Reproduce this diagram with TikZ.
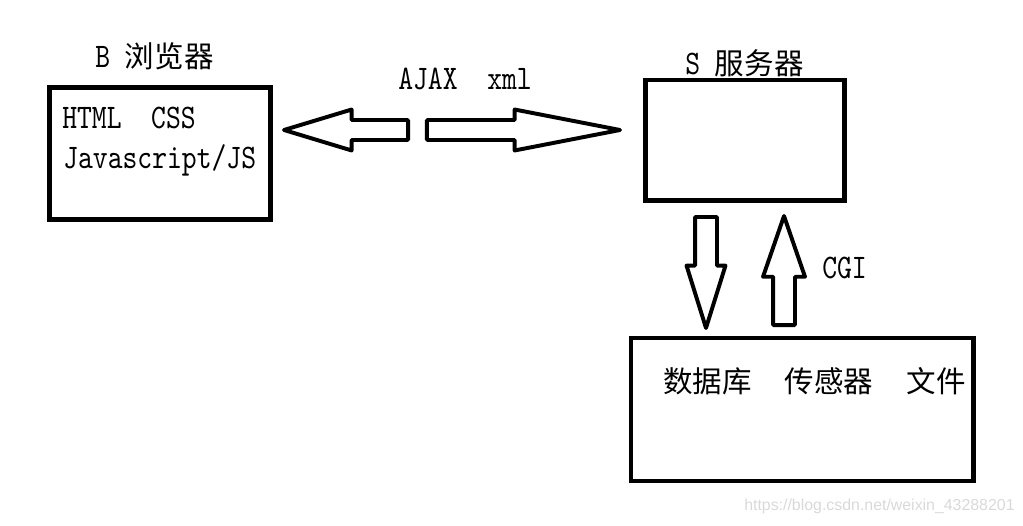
\documentclass[tikz,border=0pt]{standalone}
\usepackage{fontspec}
\newfontfamily\cjk{Noto Sans CJK SC}
\newfontfamily\mono{lmmono10-regular.otf}[FakeStretch=0.82]
\newfontfamily\wmfont{Liberation Sans}
\usetikzlibrary{shapes,arrows,positioning}
\newcommand{\zh}{\cjk\fontsize{21}{24}\selectfont}
\tikzset{
  box/.style={draw, line width=3.5pt, inner sep=0pt},
  blockarrow/.style={single arrow, draw, line width=2.8pt, line join=round,
    inner sep=#1, outer sep=0pt, anchor=tip},
  lbl/.style={anchor=base west, inner sep=0pt, font=\fontsize{24.5}{28}\mono},
}

\begin{document}
\begin{tikzpicture}[x=0.025cm, y=-0.025cm]
\useasboundingbox (0,0) rectangle (1023,525);

\node[box, minimum width=5.5375cm, minimum height=3.3cm] (browser) at (160,153.5) {};
\node[box, minimum width=4.9625cm, minimum height=3.0125cm] (server) at (744.75,140.25) {};
\node[box, minimum width=8.55cm, minimum height=3.575cm] (store) at (802,409.5) {};

\node[lbl] (btitle) at (95,68) {B~{\zh 浏览器}};
\node[lbl] (stitle) at (685,75) {S~{\zh 服务器}};
\node[lbl] (html) at (62,129) {HTML~~CSS};
\node[lbl] (js) at (63,168) {Javascript/JS};
\node[lbl] (ajax) at (398,90) {AJAX~~xml};
\node[lbl] (cgi) at (822,278) {CGI};
\node[anchor=base west, inner sep=0pt, font=\zh] (data) at (663,392)
  {数据库\hspace{0.825cm}传感器\hspace{0.825cm}文件};

\node[blockarrow=0.2cm, shape border rotate=180, minimum height=3.1cm, minimum width=0.925cm,
  single arrow head extend=0.2625cm, single arrow tip angle=33.7] (toB) at (284,130) {};
\node[blockarrow=0.2cm, minimum height=4.825cm, minimum width=0.925cm,
  single arrow head extend=0.2625cm, single arrow tip angle=22] (toS) at (620,130) {};
\node[blockarrow=0.225cm, shape border rotate=270, minimum height=2.775cm, minimum width=0.875cm,
  single arrow head extend=0.2125cm, single arrow tip angle=34.7] (down) at (706,328) {};
\node[blockarrow=0.225cm, shape border rotate=90, minimum height=2.725cm, minimum width=0.95cm,
  single arrow head extend=0.25cm, single arrow tip angle=38.1] (up) at (784,216) {};

\node[anchor=base west, inner sep=0pt, text=black!15, font=\wmfont\fontsize{11.3}{13}\selectfont]
  (wmark) at (744,510) {https://blog.csdn.net/weixin\_43288201};
\end{tikzpicture}
\end{document}
